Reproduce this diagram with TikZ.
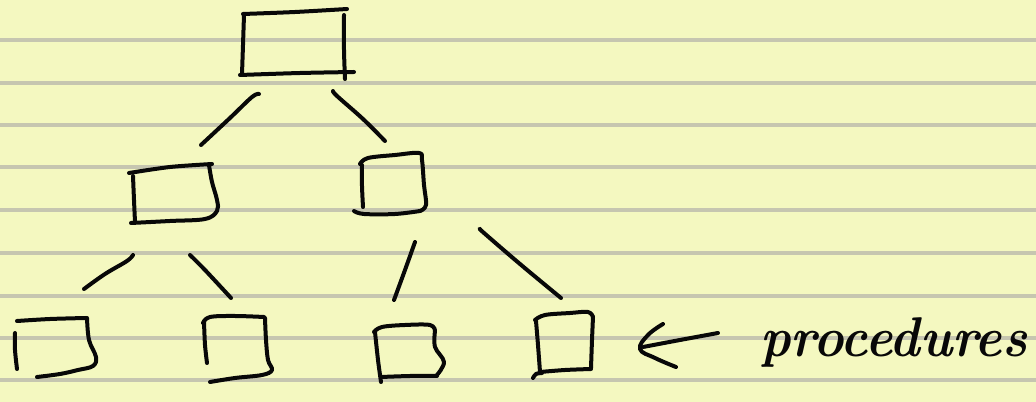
\documentclass[tikz,border=0pt]{standalone}
\usepackage{tikz}
\definecolor{paper}{RGB}{244,248,192}
\definecolor{rule}{RGB}{198,198,176}
\definecolor{ink}{RGB}{8,8,8}
\tikzset{
  pen/.style={draw=ink, line width=3pt, line cap=round, line join=round},
  ruleline/.style={draw=rule, line width=2.6pt},
  label/.style={font=\bfseries\itshape\fontsize{42}{42}\selectfont, text=ink, inner sep=0pt}
}
\begin{document}
\begin{tikzpicture}[x=0.75pt, y=-0.75pt]
\useasboundingbox (0,0) rectangle (1036,402);
\fill[paper] (0,0) rectangle (1036,402);
% ruled lines
\foreach \yy in {40,83,125,167,210,253,296,338,380}
  \draw[ruleline] (0,\yy) -- (1036,\yy);

% named positions of the boxes
\coordinate (root) at (295,44);
\coordinate (mL) at (173,194);
\coordinate (mR) at (392,184);
\coordinate (b1) at (55,345);
\coordinate (b2) at (236,348);
\coordinate (b3) at (407,352);
\coordinate (b4) at (564,342);

% top box
\draw[pen] plot[smooth] coordinates {(243,14) (295,12) (347,9)};
\draw[pen] plot[smooth] coordinates {(244,15) (243,45) (242,74)};
\draw[pen] plot[smooth] coordinates {(240,75) (300,73) (354,72)};
\draw[pen] plot[smooth] coordinates {(344,15) (344,50) (345,79)};

% middle left box
\draw[pen] plot[smooth] coordinates {(129,173) (170,167) (212,164)};
\draw[pen] plot[smooth] coordinates {(133,176) (134,200) (135,222)};
\draw[pen] plot[smooth, tension=0.6] coordinates {(209,165) (212,182) (217,200) (217,211) (205,219) (170,221) (131,223)};

% middle right box
\draw[pen] plot[smooth, tension=0.6] coordinates {(360,164) (368,158) (395,155) (419,153) (422,160) (424,185) (426,205) (420,211)};
\draw[pen] plot[smooth] coordinates {(362,165) (362,186) (363,207)};
\draw[pen] plot[smooth, tension=0.6] coordinates {(354,211) (364,214) (395,214) (420,211)};

% bottom box 1
\draw[pen] plot[smooth] coordinates {(17,321) (50,319) (86,318)};
\draw[pen] plot[smooth] coordinates {(15,333) (15,350) (17,369)};
\draw[pen] plot[smooth, tension=0.6] coordinates {(87,318) (89,340) (96,357) (93,366) (78,370) (60,374) (37,377)};

% bottom box 2
\draw[pen] plot[smooth, tension=0.6] coordinates {(203,323) (210,317) (235,316) (264,317)};
\draw[pen] plot[smooth] coordinates {(204,322) (205,345) (207,363)};
\draw[pen] plot[smooth, tension=0.6] coordinates {(265,318) (266,340) (268,360) (272,370) (262,375) (235,378) (210,382)};

% bottom box 3
\draw[pen] plot[smooth, tension=0.6] coordinates {(374,332) (382,327) (405,325) (430,325) (435,331)};
\draw[pen] plot[smooth] coordinates {(375,332) (378,360) (381,382)};
\draw[pen] plot[smooth, tension=0.6] coordinates {(435,331) (435,347) (444,362) (437,375)};
\draw[pen] plot[smooth] coordinates {(381,377) (410,376) (437,376)};

% bottom box 4
\draw[pen] plot[smooth, tension=0.6] coordinates {(535,320) (545,315) (570,313) (588,312) (593,317)};
\draw[pen] plot[smooth] coordinates {(536,321) (538,345) (540,372)};
\draw[pen] plot[smooth] coordinates {(593,317) (592,340) (591,368)};
\draw[pen] plot[smooth] coordinates {(540,372) (565,370) (591,369)};
\draw[pen] plot[smooth, tension=0.6] coordinates {(533,378) (536,374) (542,373)};

% connector end points
\coordinate (root-l) at (259,94);
\coordinate (mL-t) at (201,145);
\coordinate (root-r) at (333,91);
\coordinate (mR-t) at (385,141);
\coordinate (mL-l) at (133,255);
\coordinate (b1-t) at (84,289);
\coordinate (mL-r) at (190,255);
\coordinate (b2-t) at (231,298);
\coordinate (mR-l) at (415,242);
\coordinate (b3-t) at (394,300);
\coordinate (mR-r) at (480,229);
\coordinate (b4-t) at (561,298);

% connectors
\draw[pen] plot[smooth, tension=0.6] coordinates {(root-l) (252,97) (230,118) (mL-t)};
\draw[pen] plot[smooth, tension=0.6] coordinates {(root-r) (337,96) (363,119) (mR-t)};
\draw[pen] plot[smooth, tension=0.6] coordinates {(mL-l) (127,261) (105,274) (b1-t)};
\draw[pen] plot[smooth, tension=0.6] coordinates {(mL-r) (205,270) (b2-t)};
\draw[pen] plot[smooth, tension=0.6] coordinates {(mR-l) (405,270) (b3-t)};
\draw[pen] plot[smooth, tension=0.6] coordinates {(mR-r) (484,233) (520,264) (b4-t)};

% arrow to the label
\coordinate (arr-tip) at (640,349);
\coordinate (arr-end) at (718,333);
\draw[pen] plot[smooth, tension=0.7] coordinates {(663,324) (648,335) (arr-tip) (655,358) (676,367)};
\draw[pen] plot[smooth] coordinates {(643,347) (680,340) (arr-end)};

\node[label, anchor=base west, xscale=0.92] (proc) at (760,357) {procedures};
\end{tikzpicture}
\end{document}
